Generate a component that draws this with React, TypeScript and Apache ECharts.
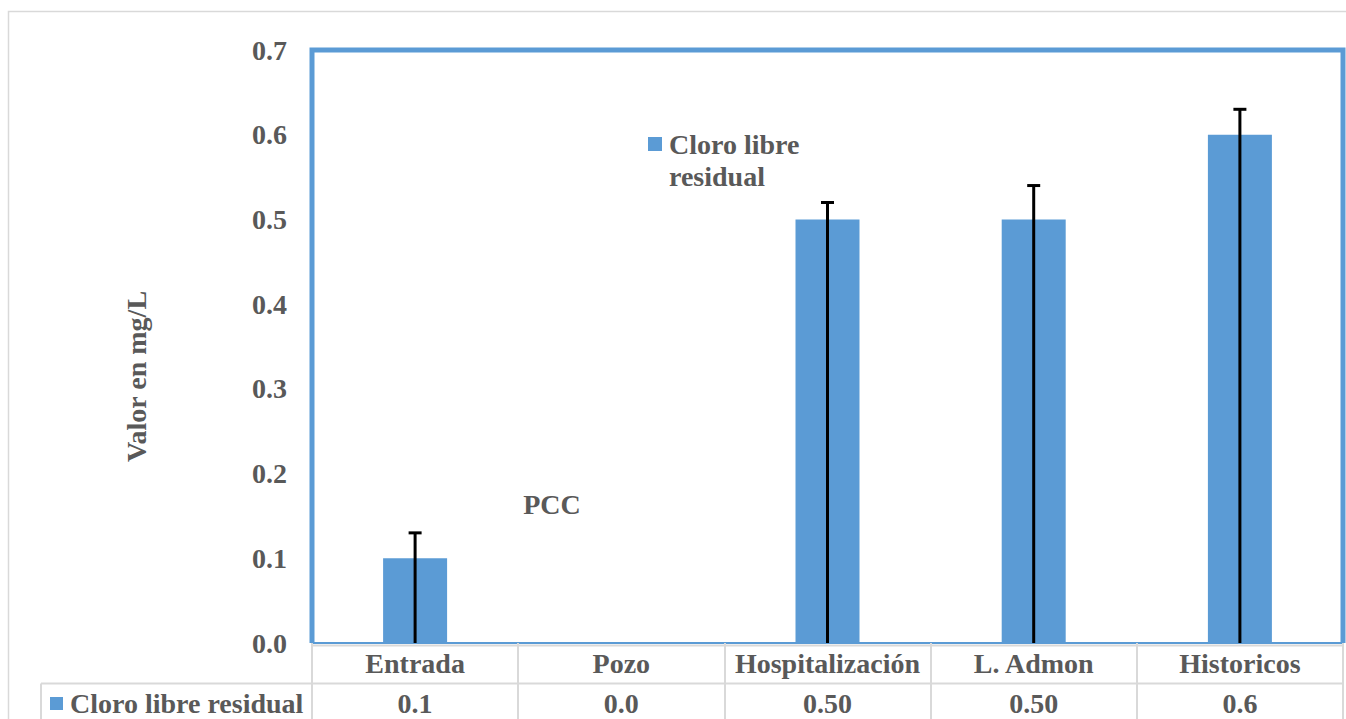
import React, { useEffect, useRef } from "react";
import * as echarts from "echarts";

const categories = ["Entrada", "Pozo", "Hospitalización", "L. Admon", "Historicos"];
const seriesName = "Cloro libre residual";
const values = [0.1, 0.0, 0.5, 0.5, 0.6];
const errorUpper: (number | null)[] = [0.13, null, 0.52, 0.54, 0.63];
const tableLabels = ["0.1", "0.0", "0.50", "0.50", "0.6"];
const yTicks = [0, 0.1, 0.2, 0.3, 0.4, 0.5, 0.6, 0.7];

const FONT = "Liberation Serif";
const TEXT = "#595959";
const BLUE = "#5B9BD5";
const GRID_LINE = "#D9D9D9";

export default function App() {
  const ref = useRef<HTMLDivElement>(null);
  useEffect(() => {
    document.body.style.margin = "0";
    const chart = echarts.init(ref.current!, null, { renderer: "svg" });
    const L = 312, T = 50, R = 1343, B = 643;
    const fs = 28;
    chart.setOption({
      animation: false,
      backgroundColor: "#ffffff",
      textStyle: { fontFamily: FONT },
      grid: { left: L, top: T, width: R - L, height: B - T, containLabel: false },
      xAxis: [
        {
          type: "category",
          data: categories,
          position: "bottom",
          axisLine: { show: true, lineStyle: { color: BLUE, width: 2 } },
          axisTick: { show: true, interval: 0, length: 76, lineStyle: { color: GRID_LINE, width: 2 } },
          axisLabel: { interval: 0, margin: 6, fontFamily: FONT, fontWeight: "bold", fontSize: fs, color: TEXT },
          splitLine: { show: false },
        },
        {
          type: "category",
          data: tableLabels,
          position: "bottom",
          axisLine: { show: false },
          axisTick: { show: false },
          axisLabel: { interval: 0, margin: 46, fontFamily: FONT, fontWeight: "bold", fontSize: fs, color: TEXT },
          splitLine: { show: false },
        },
      ],
      yAxis: {
        type: "value",
        min: 0,
        max: yTicks[yTicks.length - 1],
        interval: 0.1,
        name: "Valor en mg/L",
        nameLocation: "middle",
        nameRotate: 90,
        nameGap: 162,
        nameTextStyle: { fontFamily: FONT, fontWeight: "bold", fontSize: fs, color: TEXT, padding: [0, 60, 0, 0] },
        axisLine: { show: false },
        axisTick: { show: false },
        splitLine: { show: false },
        axisLabel: {
          margin: 25,
          fontFamily: FONT,
          fontWeight: "bold",
          fontSize: fs,
          color: TEXT,
          formatter: (v: number) => v.toFixed(1),
        },
      },
      series: [
        {
          name: seriesName,
          type: "bar",
          xAxisIndex: 0,
          data: values,
          barWidth: 64,
          itemStyle: { color: BLUE },
          z: 2,
        },
        {
          name: "error",
          type: "custom",
          xAxisIndex: 0,
          data: errorUpper.map((u, i) => [i, u == null ? 0 : u, u == null ? 0 : 1]),
          z: 5,
          renderItem: (params: any, api: any) => {
            if (!api.value(2)) return null;
            const i = api.value(0);
            const top = api.coord([i, api.value(1)]);
            const base = api.coord([i, 0]);
            const style = { stroke: "#000", lineWidth: 3 };
            return {
              type: "group",
              children: [
                { type: "line", shape: { x1: top[0], y1: base[1], x2: top[0], y2: top[1] }, style },
                { type: "line", shape: { x1: top[0] - 6.5, y1: top[1], x2: top[0] + 6.5, y2: top[1] }, style },
              ],
            };
          },
        },
      ],
      graphic: [
        { type: "rect", shape: { x: 8.5, y: 11.5, width: 1500, height: 900 }, style: { fill: "none", stroke: GRID_LINE, lineWidth: 1.5 }, silent: true, z: 0 },
        { type: "polyline", shape: { points: [[L, B], [L, T], [R, T], [R, B]] }, style: { fill: "none", stroke: BLUE, lineWidth: 5 }, z: 10 },
        { type: "line", shape: { x1: L, y1: 645.5, x2: R, y2: 645.5 }, style: { stroke: GRID_LINE, lineWidth: 2 }, z: 9 },
        { type: "line", shape: { x1: 41, y1: 683.5, x2: R, y2: 683.5 }, style: { stroke: GRID_LINE, lineWidth: 2 }, z: 9 },
        { type: "line", shape: { x1: 41, y1: 683.5, x2: 41, y2: 725 }, style: { stroke: GRID_LINE, lineWidth: 2 }, z: 9 },
        { type: "rect", shape: { x: 50, y: 697, width: 13, height: 13 }, style: { fill: BLUE }, z: 10 },
        { type: "text", x: 70, y: 703, style: { text: seriesName, font: `bold ${fs}px ${FONT}`, fill: TEXT, verticalAlign: "middle" }, z: 10 },
        { type: "rect", shape: { x: 648, y: 137, width: 14, height: 14 }, style: { fill: BLUE }, z: 10 },
        { type: "text", x: 669, y: 128, style: { text: "Cloro libre\nresidual", font: `bold ${fs}px ${FONT}`, lineHeight: 32, fill: TEXT, verticalAlign: "top" }, z: 10 },
        { type: "text", x: 552, y: 504, style: { text: "PCC", font: `bold ${fs}px ${FONT}`, fill: TEXT, align: "center", verticalAlign: "middle" }, z: 10 },
      ],
    });
    return () => chart.dispose();
  }, []);
  return <div ref={ref} style={{ width: 1346, height: 719 }} />;
}
